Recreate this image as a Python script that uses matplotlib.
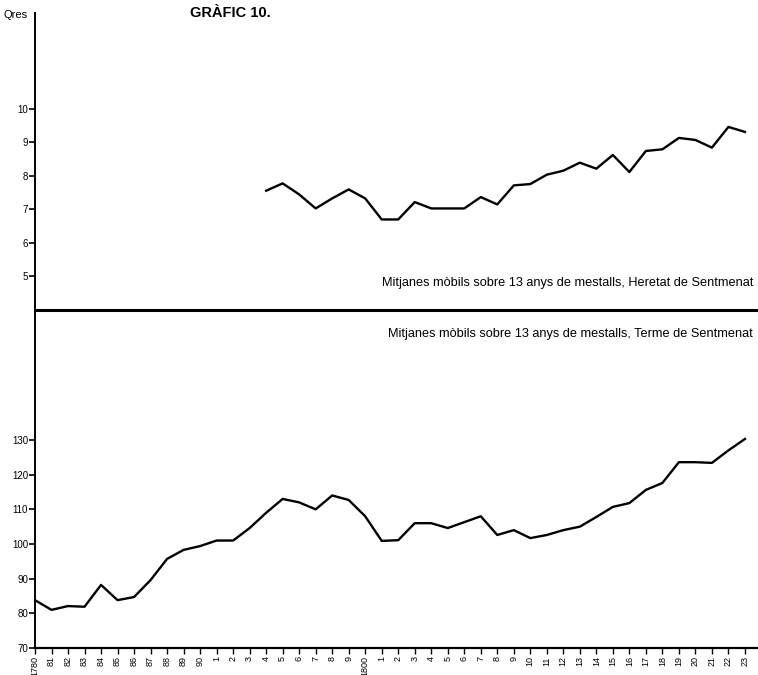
import numpy as np
import matplotlib
matplotlib.use("Agg")
import matplotlib.pyplot as plt

# anys (eix x comu)
years = list(range(1780, 1824))
year_labels = ["1780", "81", "82", "83", "84", "85", "86", "87", "88", "89", "90",
               "1", "2", "3", "4", "5", "6", "7", "8", "9", "1800",
               "1", "2", "3", "4", "5", "6", "7", "8", "9", "10", "11", "12",
               "13", "14", "15", "16", "17", "18", "19", "20", "21", "22", "23"]

# Heretat de Sentmenat (quarteres), 1794-1823
heretat_years = list(range(1794, 1824))
heretat = [7.55, 7.77, 7.44, 7.02, 7.32, 7.59, 7.32, 6.69, 6.69, 7.21,
           7.02, 7.02, 7.02, 7.36, 7.14, 7.71, 7.75, 8.03, 8.15, 8.39,
           8.21, 8.62, 8.11, 8.74, 8.79, 9.13, 9.07, 8.84, 9.46, 9.31]

# Terme de Sentmenat, 1780-1823
terme = [83.8, 81.0, 82.1, 81.9, 88.2, 83.8, 84.7, 89.6, 95.7, 98.3,
         99.4, 101.0, 101.0, 104.6, 109.0, 113.0, 112.0, 110.0, 114.0, 112.7,
         108.0, 100.9, 101.1, 106.0, 106.0, 104.6, 106.3, 108.0, 102.6, 104.0,
         101.7, 102.6, 104.0, 105.0, 107.8, 110.7, 111.8, 115.6, 117.6, 123.6,
         123.6, 123.4, 127.0, 130.3]

plt.rcParams['font.family'] = ['Liberation Sans', 'DejaVu Sans']

fig = plt.figure(figsize=(7.58, 6.75), dpi=100)
L = 35 / 758.0
mid = 1 - 310 / 675.0
ax1 = fig.add_axes([L, mid, 1 - L, 1 - 13 / 675.0 - mid])
ax2 = fig.add_axes([L, 1 - 648 / 675.0, 1 - L, mid - (1 - 648 / 675.0)])
ax2.patch.set_visible(False)
ax1.patch.set_visible(False)

xmax = 1780 + 723 / 16.51

# panell superior
ax1.plot(heretat_years, heretat, color='black', lw=1.7)
ax1.set_xlim(1780, xmax)
ax1.set_ylim(3.98, 12.87)
ax1.set_yticks([5, 6, 7, 8, 9, 10])
ax1.set_xticks([])
for s in ['top', 'right']:
    ax1.spines[s].set_visible(False)
ax1.spines['bottom'].set_linewidth(2.2)
ax1.spines['left'].set_linewidth(1.4)
ax1.tick_params(axis='y', direction='out', length=4, width=1.2, labelsize=7, pad=1)
ax1.text(0.993, 0.09, "Mitjanes mòbils sobre 13 anys de mestalls, Heretat de Sentmenat",
         transform=ax1.transAxes, ha='right', va='center', fontsize=9.2)

# panell inferior
ax2.plot(years, terme, color='black', lw=1.7)
ax2.set_xlim(1780, xmax)
ax2.set_ylim(70, 167.5)
ax2.set_yticks([70, 80, 90, 100, 110, 120, 130])
ax2.set_xticks(years)
ax2.set_xticklabels(year_labels, rotation=90, fontsize=6.5)
for s in ['top', 'right']:
    ax2.spines[s].set_visible(False)
ax2.spines['bottom'].set_linewidth(1.6)
ax2.spines['left'].set_linewidth(1.4)
ax2.tick_params(axis='y', direction='out', length=4, width=1.2, labelsize=7, pad=1)
ax2.tick_params(axis='x', direction='out', length=4, width=1.0, pad=2)
ax2.text(0.993, 0.93, "Mitjanes mòbils sobre 13 anys de mestalls, Terme de Sentmenat",
         transform=ax2.transAxes, ha='right', va='center', fontsize=9.2)

fig.text(190 / 758.0, 1 - 13 / 675.0, "GRÀFIC 10.", fontsize=10.5, fontweight='bold',
         ha='left', va='center')
fig.text(4 / 758.0, 1 - 15 / 675.0, "Qres", fontsize=8, ha='left', va='center')

fig.savefig("out.png", dpi=100)
